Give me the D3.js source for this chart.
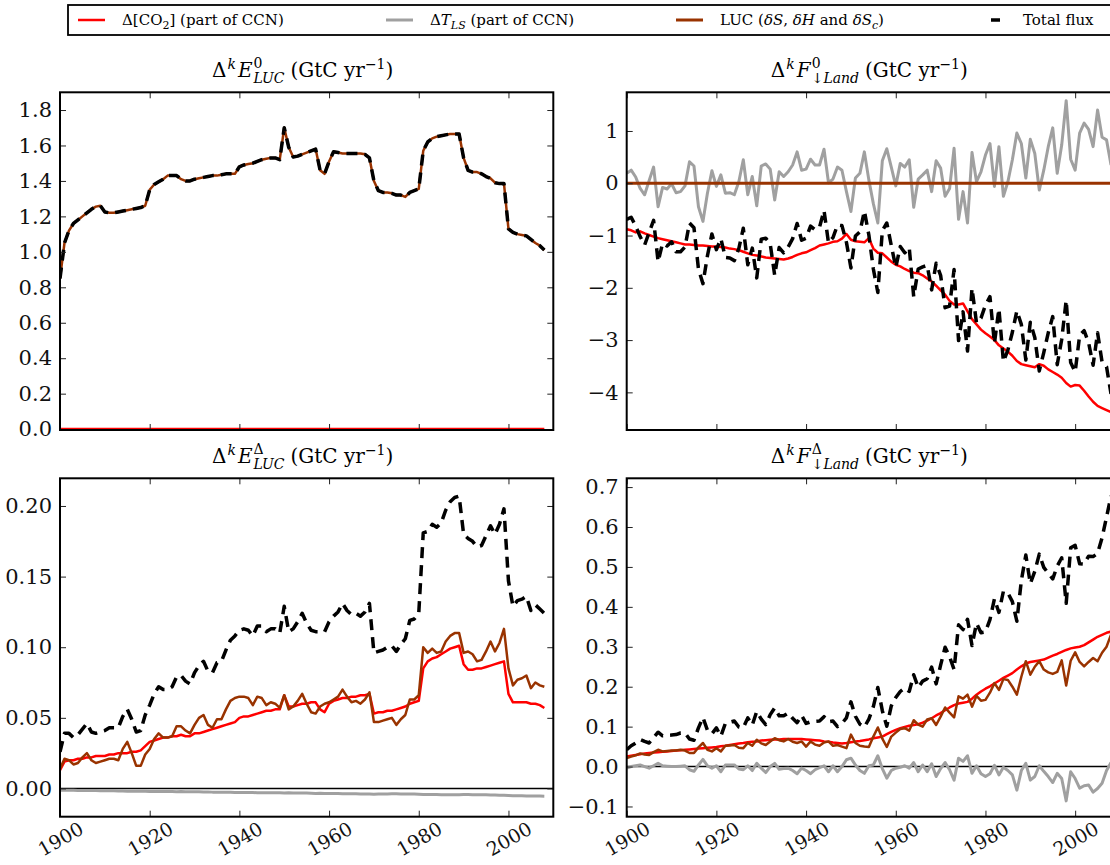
<!DOCTYPE html>
<html>
<head>
<meta charset="utf-8">
<script src="https://cdn.jsdelivr.net/npm/d3@7"></script>
<style>
  body { margin: 0; background: #fff; }
  svg { display: block; }
</style>
</head>
<body>
<script>
var W = 1110, H = 865;
var FONT = "'DejaVu Serif', 'Liberation Serif', serif";

// annual values, 1900-2008
var years = d3.range(1900, 2009);
var flatYears = [1900, 2008];
var flatZero = [0, 0];

// Delta^k E^0_LUC
var e0Luc = [
  0.85, 1.05, 1.12, 1.16, 1.18, 1.20, 1.22, 1.24, 1.255, 1.26,
  1.225, 1.22, 1.22, 1.225, 1.23, 1.235, 1.24, 1.245, 1.25, 1.26,
  1.35, 1.38, 1.395, 1.41, 1.43, 1.43, 1.43, 1.41, 1.40, 1.40,
  1.41, 1.415, 1.42, 1.425, 1.43, 1.43, 1.435, 1.44, 1.44, 1.44,
  1.48, 1.49, 1.495, 1.50, 1.51, 1.52, 1.525, 1.53, 1.53, 1.52,
  1.70, 1.59, 1.535, 1.54, 1.55, 1.56, 1.57, 1.58, 1.46, 1.44,
  1.51, 1.565, 1.56, 1.555, 1.555, 1.555, 1.555, 1.555, 1.55, 1.53,
  1.40, 1.345, 1.335, 1.335, 1.33, 1.32, 1.32, 1.31, 1.335, 1.345,
  1.355, 1.57, 1.62, 1.64, 1.65, 1.655, 1.66, 1.665, 1.665, 1.665,
  1.53, 1.46, 1.45, 1.45, 1.44, 1.425, 1.415, 1.39, 1.385, 1.385,
  1.13, 1.11, 1.10, 1.095, 1.09, 1.07, 1.05, 1.035, 1.01
];
var e0Total = e0Luc; // CCN terms are zero in this panel

// Delta^k F^0_Land
var f0Co2 = [
  -0.88, -0.90, -0.94, -0.92, -0.96, -0.99, -1.02, -1.05, -1.07, -1.09,
  -1.11, -1.13, -1.15, -1.17, -1.17, -1.18, -1.19, -1.19, -1.20, -1.21,
  -1.21, -1.22, -1.23, -1.25, -1.26, -1.28, -1.31, -1.34, -1.37, -1.38,
  -1.40, -1.42, -1.43, -1.44, -1.45, -1.46, -1.44, -1.41, -1.37, -1.34,
  -1.32, -1.28, -1.24, -1.19, -1.17, -1.15, -1.12, -1.11, -1.06, -0.97,
  -1.08, -1.11, -1.12, -1.13, -1.05, -1.25, -1.33, -1.34, -1.42, -1.50,
  -1.56, -1.59, -1.64, -1.68, -1.71, -1.72, -1.76, -1.82, -1.88, -1.96,
  -2.05, -2.13, -2.25, -2.32, -2.32, -2.30, -2.45, -2.60, -2.70, -2.80,
  -2.87, -2.93, -3.00, -3.10, -3.16, -3.22, -3.30, -3.40, -3.46, -3.48,
  -3.50, -3.52, -3.46, -3.49, -3.56, -3.61, -3.66, -3.72, -3.82, -3.89,
  -3.86, -3.87, -3.97, -4.08, -4.18, -4.26, -4.30, -4.34, -4.38
];
var f0Temp = [
  0.19, 0.25, 0.12, -0.10, -0.22, 0.05, 0.31, -0.45, -0.08, -0.11,
  -0.01, -0.18, -0.16, -0.05, 0.41, 0.33, -0.45, -0.73, -0.19, 0.24,
  -0.06, 0.16, -0.19, -0.18, -0.22, 0.03, 0.45, -0.22, 0.13, -0.43,
  0.33, 0.37, 0.27, -0.32, 0.22, 0.13, 0.22, 0.35, 0.60, 0.25,
  0.27, 0.46, 0.35, 0.35, 0.65, 0.01, 0.08, 0.31, 0.25, -0.16,
  -0.54, 0.10, 0.19, 0.60, 0.06, -0.39, -0.76, 0.43, 0.66, 0.31,
  -0.05, 0.38, 0.31, 0.45, -0.46, 0.08, 0.16, 0.25, -0.16, 0.43,
  0.29, -0.25, -0.10, 0.67, -0.69, -0.16, -0.76, 0.59, 0.03, 0.22,
  0.54, 0.76, -0.06, 0.70, -0.25, 0.03, 0.45, 0.96, 0.76, 0.10,
  0.84, 0.57, -0.13, 0.25, 0.70, 1.06, 0.19, 0.73, 1.58, 0.46,
  0.25, 0.96, 1.15, 1.03, 0.70, 1.40, 0.88, 0.83, 0.35
];
var f0Total = [
  -0.69, -0.65, -0.82, -1.02, -1.18, -0.94, -0.71, -1.50, -1.15, -1.20,
  -1.12, -1.31, -1.31, -1.22, -0.76, -0.85, -1.64, -1.92, -1.39, -0.97,
  -1.27, -1.06, -1.42, -1.43, -1.48, -1.25, -0.86, -1.56, -1.24, -1.81,
  -1.07, -1.05, -1.16, -1.76, -1.23, -1.33, -1.22, -1.06, -0.77, -1.09,
  -1.05, -0.82, -0.89, -0.84, -0.52, -1.14, -1.04, -0.80, -0.81, -1.13,
  -1.62, -1.01, -0.93, -0.53, -0.99, -1.64, -2.09, -0.91, -0.76, -1.19,
  -1.61, -1.21, -1.33, -1.23, -2.17, -1.64, -1.60, -1.57, -2.04, -1.53,
  -1.76, -2.38, -2.35, -1.65, -3.01, -2.46, -3.21, -2.01, -2.67, -2.58,
  -2.33, -2.17, -3.06, -2.40, -3.41, -3.19, -2.85, -2.44, -2.70, -3.38,
  -2.66, -2.95, -3.59, -3.24, -2.86, -2.55, -3.47, -2.99, -2.24, -3.43,
  -3.61, -2.91, -2.82, -3.05, -3.48, -2.86, -3.42, -3.51, -4.03
];

// Delta^k E^Delta_LUC
var eDCo2 = [
  0.013, 0.019, 0.020, 0.020, 0.021, 0.021, 0.022, 0.022, 0.023, 0.023,
  0.023, 0.024, 0.024, 0.025, 0.025, 0.025, 0.026, 0.026, 0.027, 0.030,
  0.033, 0.034, 0.035, 0.036, 0.036, 0.037, 0.037, 0.038, 0.037, 0.037,
  0.039, 0.039, 0.040, 0.041, 0.042, 0.043, 0.044, 0.045, 0.046, 0.047,
  0.050, 0.051, 0.051, 0.052, 0.053, 0.054, 0.055, 0.055, 0.056, 0.056,
  0.066, 0.058, 0.058, 0.059, 0.060, 0.060, 0.061, 0.061, 0.056, 0.054,
  0.060, 0.062, 0.063, 0.064, 0.064, 0.065, 0.065, 0.066, 0.066, 0.067,
  0.053, 0.054, 0.054, 0.055, 0.055, 0.056, 0.057, 0.058, 0.060, 0.061,
  0.062, 0.085, 0.090, 0.092, 0.093, 0.095, 0.097, 0.099, 0.100, 0.101,
  0.088, 0.084, 0.084, 0.085, 0.085, 0.086, 0.087, 0.088, 0.089, 0.090,
  0.067, 0.061, 0.061, 0.061, 0.061, 0.060, 0.060, 0.059, 0.057
];
var eDTemp = [
  -0.0012, -0.0012, -0.0013, -0.0013, -0.0014, -0.0014, -0.0014, -0.0015, -0.0015, -0.0016,
  -0.0016, -0.0017, -0.0017, -0.0018, -0.0018, -0.0019, -0.0019, -0.0019, -0.0020, -0.0020,
  -0.0021, -0.0021, -0.0021, -0.0022, -0.0022, -0.0022, -0.0023, -0.0022, -0.0023, -0.0023,
  -0.0024, -0.0024, -0.0025, -0.0025, -0.0026, -0.0026, -0.0026, -0.0027, -0.0027, -0.0028,
  -0.0028, -0.0028, -0.0029, -0.0029, -0.0030, -0.0030, -0.0030, -0.0031, -0.0031, -0.0031,
  -0.0032, -0.0031, -0.0032, -0.0033, -0.0033, -0.0033, -0.0034, -0.0035, -0.0034, -0.0035,
  -0.0035, -0.0036, -0.0036, -0.0037, -0.0037, -0.0038, -0.0038, -0.0039, -0.0040, -0.0040,
  -0.0041, -0.0040, -0.0039, -0.0039, -0.0038, -0.0038, -0.0039, -0.0039, -0.0040, -0.0040,
  -0.0041, -0.0042, -0.0042, -0.0043, -0.0043, -0.0044, -0.0044, -0.0045, -0.0045, -0.0044,
  -0.0043, -0.0043, -0.0044, -0.0044, -0.0045, -0.0045, -0.0046, -0.0047, -0.0048, -0.0049,
  -0.0050, -0.0051, -0.0052, -0.0052, -0.0053, -0.0053, -0.0054, -0.0054, -0.0055
];
var eDLuc = [
  0.014, 0.021, 0.020, 0.017, 0.018, 0.022, 0.025, 0.020, 0.018, 0.019,
  0.020, 0.021, 0.021, 0.020, 0.028, 0.033, 0.025, 0.016, 0.016, 0.024,
  0.028, 0.035, 0.039, 0.036, 0.036, 0.037, 0.044, 0.044, 0.041, 0.039,
  0.045, 0.050, 0.052, 0.045, 0.043, 0.049, 0.049, 0.056, 0.062, 0.064,
  0.065, 0.065, 0.064, 0.059, 0.065, 0.064, 0.059, 0.061, 0.060, 0.057,
  0.066, 0.056, 0.058, 0.062, 0.067, 0.060, 0.054, 0.053, 0.058, 0.060,
  0.061, 0.063, 0.065, 0.070, 0.065, 0.061, 0.062, 0.060, 0.063, 0.068,
  0.047, 0.047, 0.048, 0.049, 0.050, 0.045, 0.049, 0.052, 0.063, 0.063,
  0.066, 0.100, 0.096, 0.099, 0.096, 0.097, 0.104, 0.108, 0.110, 0.110,
  0.096, 0.097, 0.095, 0.090, 0.091, 0.097, 0.104, 0.097, 0.103, 0.113,
  0.085, 0.073, 0.077, 0.078, 0.080, 0.071, 0.075, 0.073, 0.072
];
var eDTotal = [
  0.026, 0.039, 0.039, 0.036, 0.038, 0.042, 0.046, 0.040, 0.039, 0.040,
  0.041, 0.043, 0.043, 0.043, 0.051, 0.056, 0.049, 0.040, 0.041, 0.052,
  0.059, 0.067, 0.072, 0.070, 0.070, 0.072, 0.079, 0.080, 0.076, 0.074,
  0.082, 0.087, 0.090, 0.083, 0.082, 0.089, 0.090, 0.098, 0.105, 0.108,
  0.112, 0.113, 0.112, 0.108, 0.115, 0.115, 0.111, 0.113, 0.113, 0.110,
  0.129, 0.111, 0.113, 0.118, 0.124, 0.117, 0.112, 0.111, 0.111, 0.111,
  0.118, 0.122, 0.125, 0.131, 0.126, 0.123, 0.124, 0.122, 0.125, 0.131,
  0.096, 0.097, 0.098, 0.100, 0.101, 0.097, 0.102, 0.106, 0.119, 0.120,
  0.124, 0.181, 0.182, 0.187, 0.185, 0.188, 0.197, 0.203, 0.206, 0.207,
  0.180, 0.177, 0.175, 0.171, 0.172, 0.179, 0.186, 0.180, 0.187, 0.198,
  0.147, 0.129, 0.133, 0.134, 0.136, 0.126, 0.130, 0.127, 0.124
];

// Delta^k F^Delta_Land
var fDCo2 = [
  0.025, 0.027, 0.029, 0.031, 0.033, 0.034, 0.035, 0.036, 0.037, 0.038,
  0.039, 0.040, 0.041, 0.042, 0.043, 0.044, 0.045, 0.046, 0.047, 0.048,
  0.049, 0.051, 0.052, 0.054, 0.056, 0.058, 0.059, 0.061, 0.062, 0.063,
  0.065, 0.066, 0.067, 0.068, 0.068, 0.069, 0.069, 0.069, 0.069, 0.069,
  0.068, 0.067, 0.066, 0.065, 0.063, 0.062, 0.060, 0.059, 0.058, 0.059,
  0.061, 0.063, 0.064, 0.066, 0.068, 0.071, 0.073, 0.075, 0.081, 0.087,
  0.092, 0.096, 0.099, 0.102, 0.104, 0.106, 0.110, 0.115, 0.121, 0.128,
  0.134, 0.141, 0.148, 0.154, 0.158, 0.160, 0.162, 0.170, 0.180, 0.188,
  0.195, 0.201, 0.208, 0.215, 0.222, 0.228, 0.234, 0.243, 0.251, 0.258,
  0.262, 0.264, 0.266, 0.268, 0.273, 0.278, 0.282, 0.287, 0.292, 0.296,
  0.298, 0.300, 0.304, 0.311, 0.318, 0.325, 0.330, 0.335, 0.338
];
var fDTemp = [
  -0.004, 0.000, 0.002, 0.004, 0.000, -0.004, 0.002, 0.008, 0.002, 0.001,
  0.000, 0.000, 0.001, 0.002, -0.008, -0.012, 0.004, 0.018, 0.002, -0.004,
  0.002, -0.013, 0.004, 0.004, 0.004, -0.006, -0.008, 0.002, -0.010, 0.008,
  -0.004, -0.015, 0.000, 0.008, -0.007, -0.005, -0.004, -0.010, -0.018, -0.004,
  -0.010, -0.018, -0.008, -0.003, 0.002, -0.013, 0.002, -0.013, 0.000, 0.017,
  0.021, 0.004, -0.010, -0.017, 0.002, 0.004, 0.027, -0.005, -0.029, -0.010,
  -0.004, -0.002, 0.002, -0.004, 0.010, -0.013, 0.004, -0.013, 0.007, -0.025,
  -0.005, 0.010, -0.008, -0.034, 0.021, 0.013, 0.027, -0.017, 0.002, -0.018,
  -0.025, -0.018, 0.003, -0.021, -0.002, -0.010, -0.021, -0.059, -0.010, 0.008,
  -0.034, -0.025, 0.002, -0.012, -0.025, -0.040, -0.017, -0.030, -0.086, -0.013,
  -0.030, -0.054, -0.048, -0.046, -0.064, -0.055, -0.042, -0.010, 0.010
];
var fDLuc = [
  0.021, 0.025, 0.028, 0.033, 0.030, 0.029, 0.036, 0.042, 0.038, 0.039,
  0.040, 0.040, 0.042, 0.040, 0.034, 0.034, 0.048, 0.059, 0.042, 0.038,
  0.046, 0.038, 0.052, 0.053, 0.054, 0.047, 0.046, 0.059, 0.052, 0.067,
  0.058, 0.054, 0.063, 0.071, 0.066, 0.063, 0.069, 0.062, 0.059, 0.063,
  0.050, 0.063, 0.055, 0.052, 0.060, 0.063, 0.052, 0.054, 0.050, 0.046,
  0.080, 0.059, 0.052, 0.050, 0.049, 0.075, 0.098, 0.070, 0.049, 0.075,
  0.085, 0.094, 0.096, 0.090, 0.116, 0.105, 0.100, 0.118, 0.121, 0.104,
  0.125, 0.148, 0.135, 0.123, 0.176, 0.170, 0.180, 0.150, 0.177, 0.165,
  0.167, 0.185, 0.209, 0.192, 0.219, 0.217, 0.200, 0.180, 0.225, 0.264,
  0.230, 0.250, 0.264, 0.243, 0.236, 0.232, 0.237, 0.266, 0.203, 0.265,
  0.286, 0.262, 0.251, 0.262, 0.272, 0.264, 0.285, 0.300, 0.330
];
var fDTotal = [
  0.042, 0.052, 0.059, 0.068, 0.063, 0.059, 0.073, 0.086, 0.077, 0.078,
  0.079, 0.080, 0.084, 0.084, 0.069, 0.066, 0.097, 0.123, 0.091, 0.082,
  0.097, 0.076, 0.108, 0.111, 0.114, 0.099, 0.097, 0.122, 0.104, 0.138,
  0.119, 0.105, 0.130, 0.147, 0.127, 0.127, 0.134, 0.121, 0.110, 0.128,
  0.108, 0.112, 0.113, 0.114, 0.125, 0.112, 0.114, 0.100, 0.108, 0.122,
  0.162, 0.126, 0.106, 0.099, 0.119, 0.150, 0.198, 0.140, 0.101, 0.152,
  0.173, 0.188, 0.197, 0.188, 0.230, 0.198, 0.214, 0.220, 0.249, 0.207,
  0.254, 0.299, 0.275, 0.243, 0.355, 0.343, 0.369, 0.303, 0.359, 0.335,
  0.337, 0.368, 0.420, 0.386, 0.439, 0.435, 0.413, 0.364, 0.466, 0.530,
  0.458, 0.489, 0.532, 0.499, 0.484, 0.470, 0.502, 0.523, 0.409, 0.548,
  0.554, 0.508, 0.507, 0.527, 0.526, 0.534, 0.573, 0.625, 0.678
];

// ticks
var xTicks = [1900, 1920, 1940, 1960, 1980, 2000];
var e0Ticks = [0, 0.2, 0.4, 0.6, 0.8, 1.0, 1.2, 1.4, 1.6, 1.8];
var f0Ticks = [-4, -3, -2, -1, 0, 1];
var eDTicks = [0, 0.05, 0.10, 0.15, 0.20];
var fDTicks = [-0.1, 0, 0.1, 0.2, 0.3, 0.4, 0.5, 0.6, 0.7];

var RED = "#ff0000", GRAY = "#a0a0a0", BROWN = "#993300", BLACK = "#000000";

var svg = d3.select("body").append("svg")
  .attr("width", W).attr("height", H)
  .style("font-family", FONT);

// draws a line of text with italic parts, super/subscripts (stacked when needed)
function richText(parent, x, y, anchor, size, parts) {
  var g = parent.append("g");
  var cursor = 0, stackStart = 0;
  parts.forEach(function(p) {
    var fs = p.s || size;
    var dx = p.dx || 0;
    var px = p.under ? stackStart : cursor + dx;
    var t = g.append("text")
      .attr("x", px).attr("y", p.dy || 0)
      .style("font-family", FONT)
      .attr("font-size", fs);
    (p.segs || [{ t: p.t, it: p.it }]).forEach(function(s) {
      t.append("tspan").attr("font-style", s.it ? "italic" : "normal").text(s.t);
    });
    var w = t.node().getComputedTextLength();
    if (p.under) {
      cursor = Math.max(cursor, stackStart + w);
    } else {
      if (p.stack) stackStart = px;
      cursor = px + w;
    }
  });
  var shift = anchor === "middle" ? x - cursor / 2 : x;
  g.attr("transform", "translate(" + shift + "," + y + ")");
}

function titleParts(letter, sup, sub) {
  return [
    { t: "\u0394" },
    { t: "k", s: 14, it: true, dy: -8, dx: 1 },
    { t: letter, it: true, dx: 2 },
    { t: sup, s: 14, dy: -9, dx: 1, stack: true },
    { segs: sub, s: 14, dy: 6, under: true },
    { t: "(GtC yr", dx: 6 },
    { t: "\u22121", s: 14, dy: -8 },
    { t: ")" }
  ];
}

var panels = [
  { id: "p0", left: 60, right: 553.3, top: 92.3, bottom: 430,
    yDomain: [-0.005, 1.9], ticks: e0Ticks, fmt: d3.format(".1f"), xLabels: false,
    title: titleParts("E", "0", [{ t: "LUC", it: true }]),
    series: [
      { x: flatYears, v: flatZero, c: RED, w: 2.5 },
      { x: years, v: e0Luc, c: BROWN, w: 2.5 },
      { x: years, v: e0Total, c: BLACK, w: 3.5, dash: "11,7" }
    ] },
  { id: "p1", left: 626.7, right: 1120, top: 92.3, bottom: 430,
    yDomain: [-4.72, 1.74], ticks: f0Ticks, fmt: d3.format("d"), xLabels: false,
    title: titleParts("F", "0", [{ t: "\u2193" }, { t: "Land", it: true }]),
    series: [
      { x: years, v: f0Temp, c: GRAY, w: 3 },
      { x: years, v: f0Co2, c: RED, w: 2.5 },
      { x: flatYears, v: flatZero, c: BROWN, w: 3 },
      { x: years, v: f0Total, c: BLACK, w: 3.5, dash: "11,7" }
    ] },
  { id: "p2", left: 60, right: 553.3, top: 478.3, bottom: 816.7,
    yDomain: [-0.02, 0.2196], ticks: eDTicks, fmt: d3.format(".2f"), xLabels: true, zeroLine: true,
    title: titleParts("E", "\u0394", [{ t: "LUC", it: true }]),
    series: [
      { x: years, v: eDTemp, c: GRAY, w: 3 },
      { x: years, v: eDCo2, c: RED, w: 2.5 },
      { x: years, v: eDLuc, c: BROWN, w: 2.5 },
      { x: years, v: eDTotal, c: BLACK, w: 3.5, dash: "11,7" }
    ] },
  { id: "p3", left: 626.7, right: 1120, top: 478.3, bottom: 816.7,
    yDomain: [-0.1256, 0.722], ticks: fDTicks, fmt: d3.format(".1f"), xLabels: true, zeroLine: true,
    title: titleParts("F", "\u0394", [{ t: "\u2193" }, { t: "Land", it: true }]),
    series: [
      { x: years, v: fDTemp, c: GRAY, w: 3 },
      { x: years, v: fDCo2, c: RED, w: 2.5 },
      { x: years, v: fDLuc, c: BROWN, w: 2.5 },
      { x: years, v: fDTotal, c: BLACK, w: 3.5, dash: "11,7" }
    ] }
];

panels.forEach(function(p) {
  var x = d3.scaleLinear().domain([1900, 2010]).range([p.left, p.right]);
  var y = d3.scaleLinear().domain(p.yDomain).range([p.bottom, p.top]);
  var g = svg.append("g");

  g.append("clipPath").attr("id", "clip-" + p.id)
    .append("rect")
    .attr("x", p.left).attr("y", p.top)
    .attr("width", p.right - p.left).attr("height", p.bottom - p.top);

  var plot = g.append("g").attr("clip-path", "url(#clip-" + p.id + ")");

  if (p.zeroLine) {
    plot.append("line")
      .attr("x1", p.left).attr("x2", p.right)
      .attr("y1", y(0)).attr("y2", y(0))
      .attr("stroke", BLACK).attr("stroke-width", 1.6);
  }

  p.series.forEach(function(s) {
    var line = d3.line()
      .x(function(d, i) { return x(s.x[i]); })
      .y(function(d) { return y(d); });
    plot.append("path")
      .datum(s.v)
      .attr("d", line)
      .attr("fill", "none")
      .attr("stroke", s.c)
      .attr("stroke-width", s.w)
      .attr("stroke-linejoin", "round")
      .attr("stroke-dasharray", s.dash || null);
  });

  // axes with inward ticks on all sides
  var left = g.append("g").attr("transform", "translate(" + p.left + ",0)")
    .call(d3.axisLeft(y).tickValues(p.ticks).tickFormat(p.fmt).tickSize(-6).tickPadding(8));
  var right = g.append("g").attr("transform", "translate(" + p.right + ",0)")
    .call(d3.axisRight(y).tickValues(p.ticks).tickFormat("").tickSize(-6));
  var top = g.append("g").attr("transform", "translate(0," + p.top + ")")
    .call(d3.axisTop(x).tickValues(xTicks).tickFormat("").tickSize(-6));
  var bottom = g.append("g").attr("transform", "translate(0," + p.bottom + ")")
    .call(d3.axisBottom(x).tickValues(xTicks).tickFormat(p.xLabels ? d3.format("d") : "").tickSize(-6));

  [left, right, top, bottom].forEach(function(a) {
    a.select(".domain").remove();
    a.selectAll(".tick line").attr("stroke", "#222").attr("stroke-width", 1);
    a.attr("font-family", null).attr("font-size", 21);
    a.selectAll("text").attr("fill", "#111").style("font-family", FONT);
  });

  if (p.xLabels) {
    bottom.selectAll(".tick text")
      .attr("font-size", 19)
      .attr("y", 0).attr("dy", null)
      .attr("dominant-baseline", "central")
      .attr("text-anchor", "middle")
      .attr("transform", "translate(0,22) rotate(-30)");
  }

  g.append("rect")
    .attr("x", p.left).attr("y", p.top)
    .attr("width", p.right - p.left).attr("height", p.bottom - p.top)
    .attr("fill", "none").attr("stroke", BLACK).attr("stroke-width", 2);

  richText(g, (p.left + p.right) / 2 - 4, p.top - 15, "middle", 20, p.title);
});

// legend
var legend = svg.append("g");
legend.append("rect")
  .attr("x", 68).attr("y", 5).attr("width", 1100).attr("height", 30)
  .attr("fill", "#fff").attr("stroke", BLACK).attr("stroke-width", 1.8);

var legendItems = [
  { x: 78, c: RED, w: 2.5, parts: [
    { t: "\u0394[CO" }, { t: "2", s: 11, dy: 4 }, { t: "]\u00a0(part of CCN)" }] },
  { x: 386, c: GRAY, w: 3, parts: [
    { t: "\u0394" }, { t: "T", it: true }, { t: "LS", s: 11, it: true, dy: 4 }, { t: "\u00a0(part of CCN)" }] },
  { x: 676, c: BROWN, w: 3, parts: [
    { t: "LUC (" }, { t: "\u03b4S", it: true }, { t: ",\u00a0" }, { t: "\u03b4H", it: true },
    { t: "\u00a0and\u00a0" }, { t: "\u03b4S", it: true }, { t: "c", s: 11, it: true, dy: 4 }, { t: ")" }] },
  { x: 979, c: BLACK, w: 3.5, dash: "0,12,9,100", parts: [{ t: "Total flux" }] }
];

legendItems.forEach(function(it) {
  legend.append("line")
    .attr("x1", it.x).attr("x2", it.x + 27)
    .attr("y1", 20).attr("y2", 20)
    .attr("stroke", it.c).attr("stroke-width", it.w)
    .attr("stroke-dasharray", it.dash || null);
  richText(legend, it.x + 44, 25, "start", 15, it.parts);
});
</script>
</body>
</html>
